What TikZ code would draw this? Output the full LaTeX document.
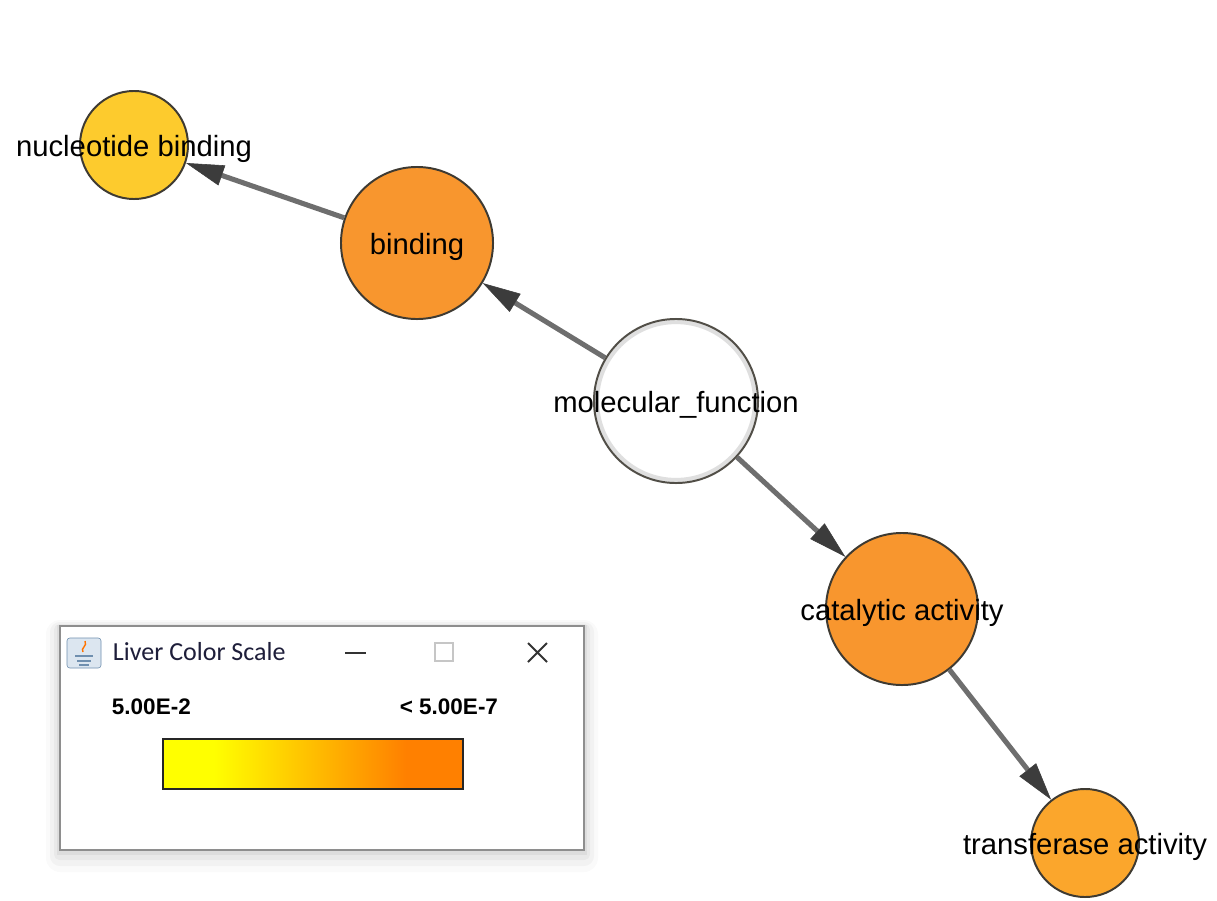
\documentclass[tikz,border=0pt]{standalone}
\usepackage{fontspec}
\setmainfont{Liberation Sans}
\newfontfamily\winfont{Carlito}
\usetikzlibrary{arrows.meta}
\definecolor{fnucl}{HTML}{FDCB2D}
\definecolor{fbind}{HTML}{F8962E}
\definecolor{fcatal}{HTML}{F8962E}
\definecolor{ftrans}{HTML}{FBA62C}
\definecolor{sterm}{HTML}{3E3A32}
\definecolor{sedge}{HTML}{6E6E6E}
\definecolor{shead}{HTML}{3C3C3C}
\definecolor{swin}{HTML}{8E8E8E}
\definecolor{twin}{HTML}{1E1E3A}
\definecolor{scaleyellow}{HTML}{FFFF00}
\definecolor{scaleorange}{HTML}{FF8000}
\definecolor{ficon}{HTML}{DCE6F0}
\definecolor{sicon}{HTML}{6F8FAF}
\pgfdeclarehorizontalshading{livergrad}{100bp}{color(0bp)=(scaleyellow); color(33.5bp)=(scaleyellow); color(65.5bp)=(scaleorange); color(100bp)=(scaleorange)}

\begin{document}
\begin{tikzpicture}[x=0.025cm,y=-0.025cm,
  term/.style={circle,draw=sterm,line width=1.4pt,inner sep=0pt},
  tlabel/.style={font=\fontsize{20.8}{24}\selectfont,yshift=-2.8pt},
  isa/.style={draw=sedge,line width=3.6pt,-{Triangle[length=27pt,width=15pt,color=shead,line width=0.4pt]}},
  scaletext/.style={font=\bfseries\fontsize{16}{19}\selectfont}]
\useasboundingbox (0,0) rectangle (1217,901);
% terms
\node[term,fill=fnucl,minimum size=2.7cm,label={[tlabel]center:nucleotide binding}] (nucl) at (134,145) {};
\node[term,fill=fbind,minimum size=3.8cm,label={[tlabel]center:binding}] (bind) at (417,243) {};
\node[term,draw=gray!25,line width=3pt,fill=white,minimum size=3.95cm] (molring) at (676,401) {};
\node[term,draw=sterm!90,fill=none,minimum size=4.1cm,label={[tlabel]center:molecular\_function}] (molfun) at (676,401) {};
\node[term,fill=fcatal,minimum size=3.8cm,label={[tlabel]center:catalytic activity}] (catal) at (902,609) {};
\node[term,fill=ftrans,minimum size=2.7cm,label={[tlabel]center:transferase activity}] (trans) at (1085,843) {};
% is-a edges
\draw[isa] (molfun) -- (bind);
\draw[isa] (bind) -- (nucl);
\draw[isa] (molfun) -- (catal);
\draw[isa] (catal) -- (trans);
% colour scale window
\fill[black,opacity=0.02,rounded corners=10pt] (46,620) rectangle (598,872);
\fill[black,opacity=0.03,rounded corners=7pt] (50,622) rectangle (594,866);
\fill[black,opacity=0.04,rounded corners=4pt] (54,624) rectangle (590,860);
\fill[black,opacity=0.05] (57,625) rectangle (587,855);
\draw[fill=white,draw=swin,line width=1.4pt] (60,626) rectangle (584,850);
\draw[fill=ficon,draw=sicon,rounded corners=2pt] (67,638) rectangle (101,668);
\draw[draw=sicon,line width=1pt] (75,656) -- (93,656) (77,661) -- (91,661) (79,665) -- (89,665);
\draw[draw=orange!90!red,line width=1pt] (83,652) .. controls (80,648) and (88,646) .. (85,641);
\node[anchor=west,text=twin,font=\winfont\fontsize{18.5}{21}\selectfont] (wintitle) at (108,652) {Liver Color Scale};
\draw[draw=black!80,line width=1.3pt] (345,653) -- (366,653);
\draw[draw=gray!45,line width=0.8pt] (435,643) rectangle (453,661);
\draw[draw=black!80,line width=1.3pt] (528,643) -- (547,662) (547,643) -- (528,662);
\node[anchor=west,scaletext] (scalemin) at (107,707) {5.00E-2};
\node[anchor=east,scaletext] (scalemax) at (503,707) {< 5.00E-7};
\shade[shading=livergrad] (163,739) rectangle (463,789);
\draw[draw=black!85,line width=1.4pt] (163,739) rectangle (463,789);
\end{tikzpicture}
\end{document}
